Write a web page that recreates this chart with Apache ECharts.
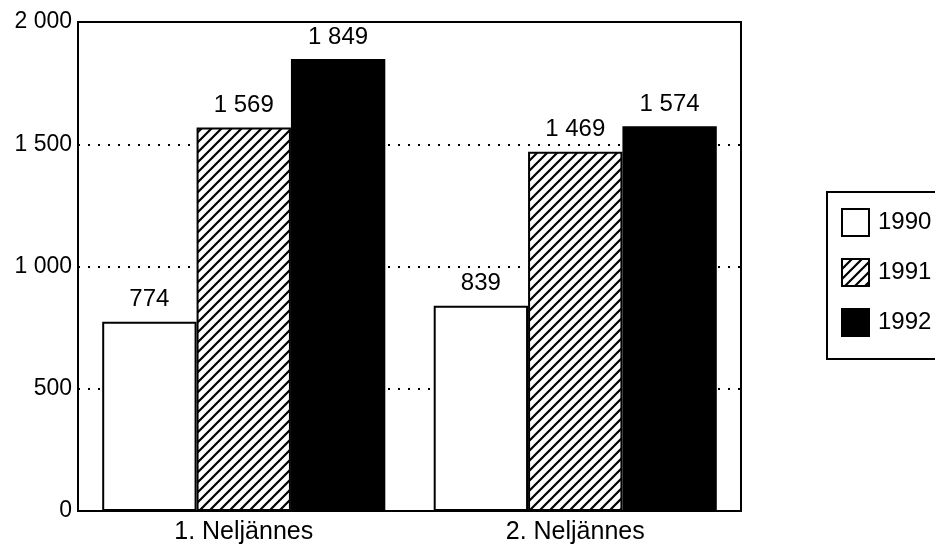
<!DOCTYPE html>
<html>
<head>
<meta charset="utf-8">
<script src="https://cdn.jsdelivr.net/npm/echarts@6/dist/echarts.min.js"></script>
<style>
html,body{margin:0;padding:0;background:#fff;}
#c{width:935px;height:547px;}
</style>
</head>
<body>
<div id="c"></div>
<script>
const categories = ['1. Neljännes', '2. Neljännes'];
const years = ['1990', '1991', '1992'];
const v1990 = [774, 839];
const v1991 = [1569, 1469];
const v1992 = [1849, 1574];
const yTicks = [0, 500, 1000, 1500, 2000];

function fmt(v){ return String(v).replace(/\B(?=(\d{3})+(?!\d))/g, ' '); }

function hatch(){
  const s = 10;
  const cv = document.createElement('canvas');
  cv.width = s; cv.height = s;
  const ctx = cv.getContext('2d');
  ctx.fillStyle = '#fff'; ctx.fillRect(0,0,s,s);
  ctx.strokeStyle = '#000'; ctx.lineWidth = 2.2; ctx.lineCap = 'square';
  ctx.beginPath();
  ctx.moveTo(0,s); ctx.lineTo(s,0);
  ctx.moveTo(-s/2,s/2); ctx.lineTo(s/2,-s/2);
  ctx.moveTo(s/2,s*1.5); ctx.lineTo(s*1.5,s/2);
  ctx.stroke();
  return {image: cv, repeat: 'repeat'};
}

const font = 'Liberation Sans, Arial, sans-serif';
const fills = ['#ffffff', hatch(), '#000000'];
const vals = [v1990, v1991, v1992];

const chart = echarts.init(document.getElementById('c'), null, {renderer:'canvas'});
chart.setOption({
  animation: false,
  backgroundColor: '#fff',
  grid: {left: 78, right: 194, top: 22, bottom: 36, show: true, borderColor: '#000', borderWidth: 2, backgroundColor: 'transparent'},
  legend: {
    orient: 'vertical', left: 827, top: 192,
    padding: [16, 40, 22, 14], itemGap: 21, itemWidth: 27, itemHeight: 27,
    borderColor: '#000', borderWidth: 2, borderRadius: 0,
    icon: 'rect',
    textStyle: {fontFamily: font, fontSize: 24, color: '#000', padding: [2,0,0,4]},
    data: years
  },
  xAxis: {
    type: 'category', data: categories,
    axisLine: {lineStyle: {color: '#000', width: 2}},
    axisTick: {show: false},
    axisLabel: {fontFamily: font, fontSize: 25, color: '#000', margin: 9}
  },
  yAxis: {
    type: 'value', min: 0, max: 2000, interval: 500,
    axisLine: {show: true, lineStyle: {color: '#000', width: 2}},
    axisTick: {show: false},
    axisLabel: {fontFamily: font, fontSize: 23, color: '#000', margin: 6, formatter: v => yTicks.includes(v) ? fmt(v) : ''},
    splitLine: {show: true, lineStyle: {color: '#000', width: 2, type: [2, 8]}}
  },
  series: years.map((y, i) => ({
    name: y, type: 'bar', data: vals[i],
    barGap: '0%', barCategoryGap: '14.6%',
    itemStyle: {color: fills[i], borderColor: '#000', borderWidth: 2},
    label: {show: true, position: 'top', distance: 10, fontFamily: font, fontSize: 24, color: '#000', formatter: p => fmt(p.value)}
  }))
});
</script>
</body>
</html>
